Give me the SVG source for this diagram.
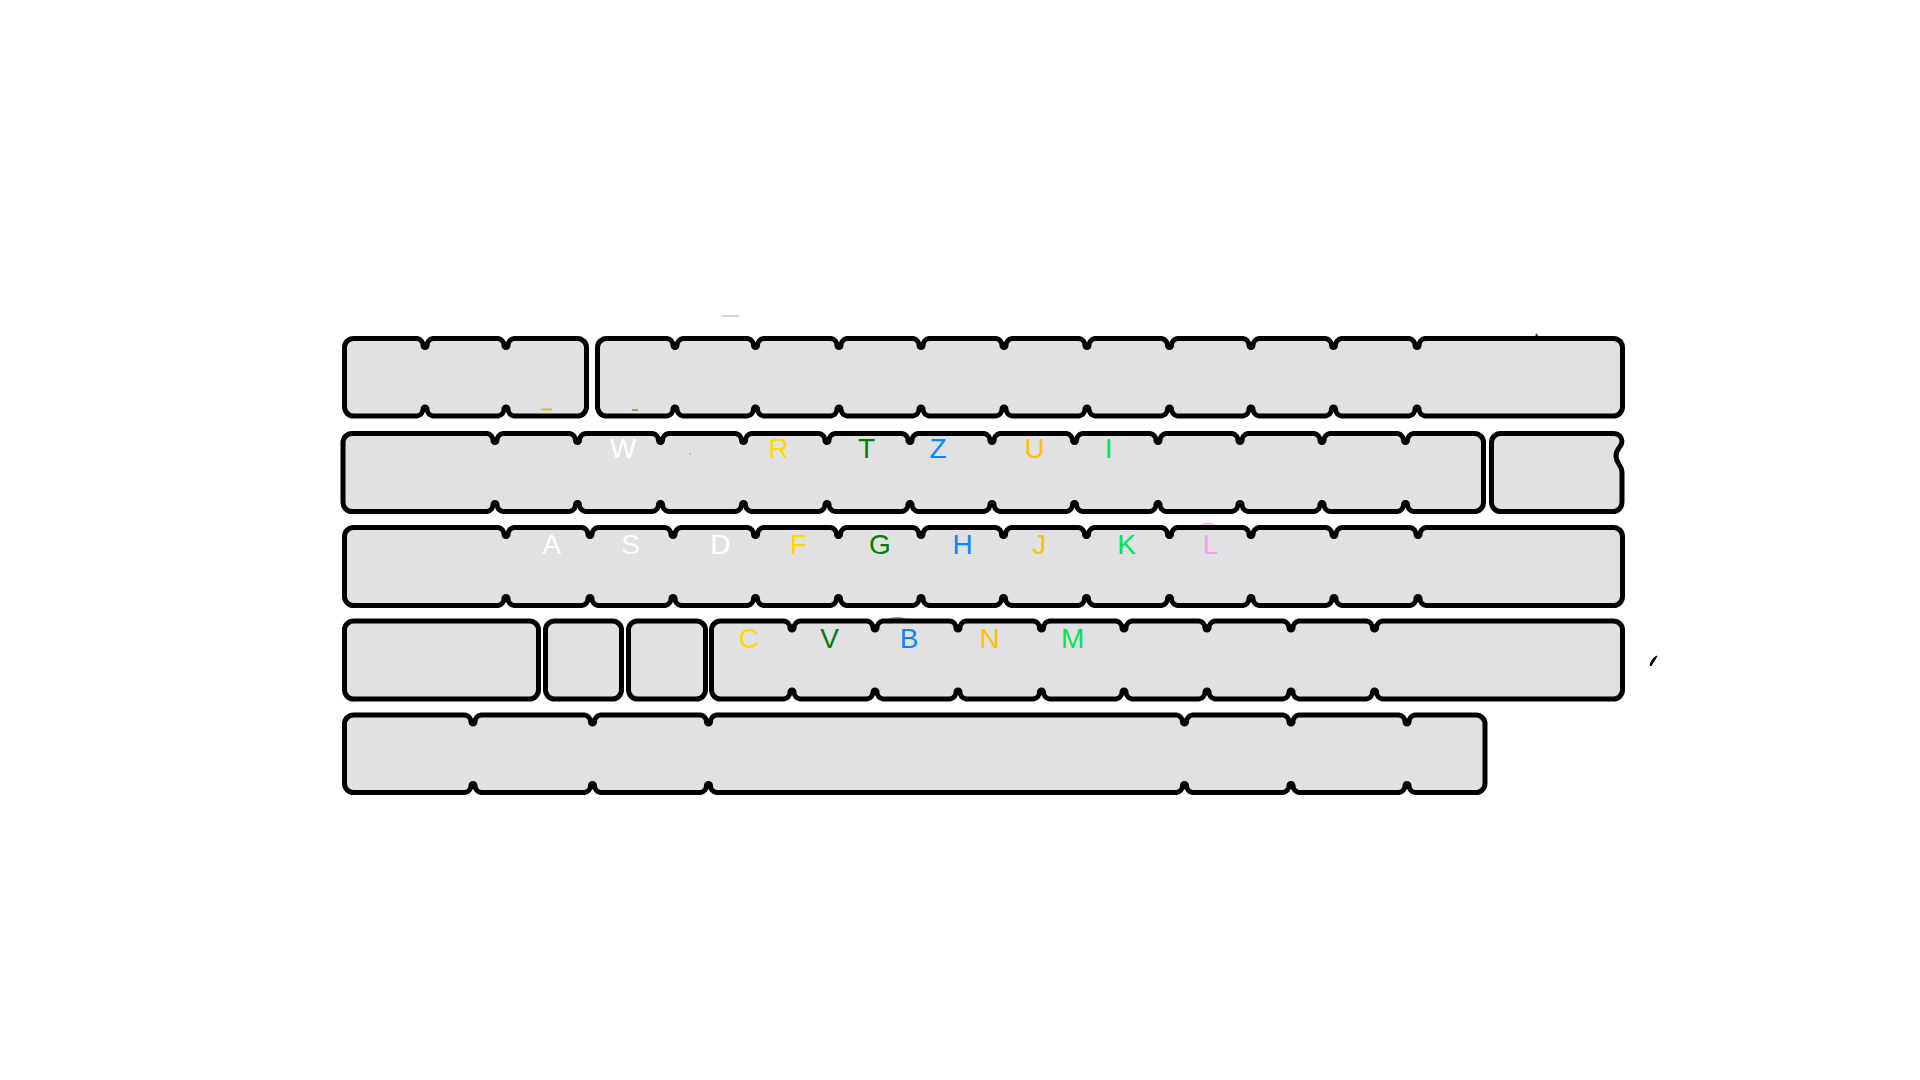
<svg xmlns="http://www.w3.org/2000/svg" width="1920" height="1080" viewBox="0 0 1920 1080">
<style>
.k{fill:#e1e1e3;stroke:#000;stroke-width:5;stroke-linejoin:round}
.t{font-family:"Liberation Sans",Arial,sans-serif;font-size:28px;text-anchor:middle}
.wh{fill:#ffffff}.ye{fill:#ffd800}.gr{fill:#008000}.bl{fill:#0a84ff}.or{fill:#ffc000}.li{fill:#00e64d}.pk{fill:#ff99f0}
</style>

<g id="marks">
<path d="M888,620 Q897,615.5 907,620" fill="none" stroke="#4caf50" stroke-width="1.5"/>
<path d="M1201,525.5 Q1208,521.5 1215,525.5" fill="none" stroke="#ffa0f0" stroke-width="1.5"/>
<line x1="722" y1="316" x2="739" y2="316" stroke="#c8c8c8" stroke-width="1.5"/>
<line x1="1536" y1="334" x2="1538" y2="338" stroke="#333" stroke-width="2"/>
<path d="M1650,665 Q1652,658 1657,656 Q1654,661 1651,666 Z" fill="#000" stroke="#000" stroke-width="1"/>
</g>

<g id="row1-left">
<path class="k" d="M344.5,347.5A9,9 0 0 1 353.5,338.5H417a7,7 0 0 1 6,7a2,2 0 0 0 4,0a7,7 0 0 1 6,-7H498a7,7 0 0 1 6,7a2,2 0 0 0 4,0a7,7 0 0 1 6,-7H577.5A9,9 0 0 1 586.5,347.5V407A9,9 0 0 1 577.5,416H514a7,7 0 0 1 -6,-7a2,2 0 0 0 -4,0a7,7 0 0 1 -6,7H433a7,7 0 0 1 -6,-7a2,2 0 0 0 -4,0a7,7 0 0 1 -6,7H353.5A9,9 0 0 1 344.5,407Z"/>
</g>
<g id="row1-right">
<path class="k" d="M597.5,347.5A9,9 0 0 1 606.5,338.5H667a7,7 0 0 1 6,7a2,2 0 0 0 4,0a7,7 0 0 1 6,-7H747.5a7,7 0 0 1 6,7a2,2 0 0 0 4,0a7,7 0 0 1 6,-7H831a7,7 0 0 1 6,7a2,2 0 0 0 4,0a7,7 0 0 1 6,-7H913a7,7 0 0 1 6,7a2,2 0 0 0 4,0a7,7 0 0 1 6,-7H996a7,7 0 0 1 6,7a2,2 0 0 0 4,0a7,7 0 0 1 6,-7H1079a7,7 0 0 1 6,7a2,2 0 0 0 4,0a7,7 0 0 1 6,-7H1161.5a7,7 0 0 1 6,7a2,2 0 0 0 4,0a7,7 0 0 1 6,-7H1243a7,7 0 0 1 6,7a2,2 0 0 0 4,0a7,7 0 0 1 6,-7H1325.5a7,7 0 0 1 6,7a2,2 0 0 0 4,0a7,7 0 0 1 6,-7H1409a7,7 0 0 1 6,7a2,2 0 0 0 4,0a7,7 0 0 1 6,-7H1613.5A9,9 0 0 1 1622.5,347.5V407A9,9 0 0 1 1613.5,416H1425a7,7 0 0 1 -6,-7a2,2 0 0 0 -4,0a7,7 0 0 1 -6,7H1341.5a7,7 0 0 1 -6,-7a2,2 0 0 0 -4,0a7,7 0 0 1 -6,7H1259a7,7 0 0 1 -6,-7a2,2 0 0 0 -4,0a7,7 0 0 1 -6,7H1177.5a7,7 0 0 1 -6,-7a2,2 0 0 0 -4,0a7,7 0 0 1 -6,7H1095a7,7 0 0 1 -6,-7a2,2 0 0 0 -4,0a7,7 0 0 1 -6,7H1012a7,7 0 0 1 -6,-7a2,2 0 0 0 -4,0a7,7 0 0 1 -6,7H929a7,7 0 0 1 -6,-7a2,2 0 0 0 -4,0a7,7 0 0 1 -6,7H847a7,7 0 0 1 -6,-7a2,2 0 0 0 -4,0a7,7 0 0 1 -6,7H763.5a7,7 0 0 1 -6,-7a2,2 0 0 0 -4,0a7,7 0 0 1 -6,7H683a7,7 0 0 1 -6,-7a2,2 0 0 0 -4,0a7,7 0 0 1 -6,7H606.5A9,9 0 0 1 597.5,407Z"/>
</g>

<g id="row2-main">
<path class="k" d="M343,442.5A9,9 0 0 1 352,433.5H487a7,7 0 0 1 6,7a2,2 0 0 0 4,0a7,7 0 0 1 6,-7H569.5a7,7 0 0 1 6,7a2,2 0 0 0 4,0a7,7 0 0 1 6,-7H652.5a7,7 0 0 1 6,7a2,2 0 0 0 4,0a7,7 0 0 1 6,-7H735.5a7,7 0 0 1 6,7a2,2 0 0 0 4,0a7,7 0 0 1 6,-7H819a7,7 0 0 1 6,7a2,2 0 0 0 4,0a7,7 0 0 1 6,-7H902a7,7 0 0 1 6,7a2,2 0 0 0 4,0a7,7 0 0 1 6,-7H984a7,7 0 0 1 6,7a2,2 0 0 0 4,0a7,7 0 0 1 6,-7H1066.5a7,7 0 0 1 6,7a2,2 0 0 0 4,0a7,7 0 0 1 6,-7H1150a7,7 0 0 1 6,7a2,2 0 0 0 4,0a7,7 0 0 1 6,-7H1232a7,7 0 0 1 6,7a2,2 0 0 0 4,0a7,7 0 0 1 6,-7H1314a7,7 0 0 1 6,7a2,2 0 0 0 4,0a7,7 0 0 1 6,-7H1397.5a7,7 0 0 1 6,7a2,2 0 0 0 4,0a7,7 0 0 1 6,-7H1474.5A9,9 0 0 1 1483.5,442.5V502.5A9,9 0 0 1 1474.5,511.5H1413.5a7,7 0 0 1 -6,-7a2,2 0 0 0 -4,0a7,7 0 0 1 -6,7H1330a7,7 0 0 1 -6,-7a2,2 0 0 0 -4,0a7,7 0 0 1 -6,7H1248a7,7 0 0 1 -6,-7a2,2 0 0 0 -4,0a7,7 0 0 1 -6,7H1166a7,7 0 0 1 -6,-7a2,2 0 0 0 -4,0a7,7 0 0 1 -6,7H1082.5a7,7 0 0 1 -6,-7a2,2 0 0 0 -4,0a7,7 0 0 1 -6,7H1000a7,7 0 0 1 -6,-7a2,2 0 0 0 -4,0a7,7 0 0 1 -6,7H918a7,7 0 0 1 -6,-7a2,2 0 0 0 -4,0a7,7 0 0 1 -6,7H835a7,7 0 0 1 -6,-7a2,2 0 0 0 -4,0a7,7 0 0 1 -6,7H751.5a7,7 0 0 1 -6,-7a2,2 0 0 0 -4,0a7,7 0 0 1 -6,7H668.5a7,7 0 0 1 -6,-7a2,2 0 0 0 -4,0a7,7 0 0 1 -6,7H585.5a7,7 0 0 1 -6,-7a2,2 0 0 0 -4,0a7,7 0 0 1 -6,7H503a7,7 0 0 1 -6,-7a2,2 0 0 0 -4,0a7,7 0 0 1 -6,7H352A9,9 0 0 1 343,502.5Z"/>
</g>
<g id="row2-end">
<path class="k" d="M1491.5,442.5A9,9 0 0 1 1500.5,433.5H1614A8,8 0 0 1 1622,441.5C1622,447 1616,448 1616,456C1616,464 1622,465 1622,472V502.5A9,9 0 0 1 1613,511.5H1500.5A9,9 0 0 1 1491.5,502.5Z"/>
</g>

<g id="row3">
<path class="k" d="M344.5,536.5A9,9 0 0 1 353.5,527.5H498a7,7 0 0 1 6,7a2,2 0 0 0 4,0a7,7 0 0 1 6,-7H582a7,7 0 0 1 6,7a2,2 0 0 0 4,0a7,7 0 0 1 6,-7H665a7,7 0 0 1 6,7a2,2 0 0 0 4,0a7,7 0 0 1 6,-7H747.5a7,7 0 0 1 6,7a2,2 0 0 0 4,0a7,7 0 0 1 6,-7H830.5a7,7 0 0 1 6,7a2,2 0 0 0 4,0a7,7 0 0 1 6,-7H913a7,7 0 0 1 6,7a2,2 0 0 0 4,0a7,7 0 0 1 6,-7H995.5a7,7 0 0 1 6,7a2,2 0 0 0 4,0a7,7 0 0 1 6,-7H1078.5a7,7 0 0 1 6,7a2,2 0 0 0 4,0a7,7 0 0 1 6,-7H1161.5a7,7 0 0 1 6,7a2,2 0 0 0 4,0a7,7 0 0 1 6,-7H1243a7,7 0 0 1 6,7a2,2 0 0 0 4,0a7,7 0 0 1 6,-7H1326a7,7 0 0 1 6,7a2,2 0 0 0 4,0a7,7 0 0 1 6,-7H1410a7,7 0 0 1 6,7a2,2 0 0 0 4,0a7,7 0 0 1 6,-7H1613.5A9,9 0 0 1 1622.5,536.5V596.5A9,9 0 0 1 1613.5,605.5H1426a7,7 0 0 1 -6,-7a2,2 0 0 0 -4,0a7,7 0 0 1 -6,7H1342a7,7 0 0 1 -6,-7a2,2 0 0 0 -4,0a7,7 0 0 1 -6,7H1259a7,7 0 0 1 -6,-7a2,2 0 0 0 -4,0a7,7 0 0 1 -6,7H1177.5a7,7 0 0 1 -6,-7a2,2 0 0 0 -4,0a7,7 0 0 1 -6,7H1094.5a7,7 0 0 1 -6,-7a2,2 0 0 0 -4,0a7,7 0 0 1 -6,7H1011.5a7,7 0 0 1 -6,-7a2,2 0 0 0 -4,0a7,7 0 0 1 -6,7H929a7,7 0 0 1 -6,-7a2,2 0 0 0 -4,0a7,7 0 0 1 -6,7H846.5a7,7 0 0 1 -6,-7a2,2 0 0 0 -4,0a7,7 0 0 1 -6,7H763.5a7,7 0 0 1 -6,-7a2,2 0 0 0 -4,0a7,7 0 0 1 -6,7H681a7,7 0 0 1 -6,-7a2,2 0 0 0 -4,0a7,7 0 0 1 -6,7H598a7,7 0 0 1 -6,-7a2,2 0 0 0 -4,0a7,7 0 0 1 -6,7H514a7,7 0 0 1 -6,-7a2,2 0 0 0 -4,0a7,7 0 0 1 -6,7H353.5A9,9 0 0 1 344.5,596.5Z"/>
</g>

<g id="row4-a"><rect class="k" x="344.5" y="621" width="194" height="78" rx="9"/></g>
<g id="row4-b"><rect class="k" x="545.5" y="621" width="76" height="78" rx="9"/></g>
<g id="row4-c"><rect class="k" x="628.5" y="621" width="77" height="78" rx="9"/></g>
<g id="row4-d">
<path class="k" d="M711.5,630A9,9 0 0 1 720.5,621H784a7,7 0 0 1 6,7a2,2 0 0 0 4,0a7,7 0 0 1 6,-7H867a7,7 0 0 1 6,7a2,2 0 0 0 4,0a7,7 0 0 1 6,-7H950a7,7 0 0 1 6,7a2,2 0 0 0 4,0a7,7 0 0 1 6,-7H1033.5a7,7 0 0 1 6,7a2,2 0 0 0 4,0a7,7 0 0 1 6,-7H1116a7,7 0 0 1 6,7a2,2 0 0 0 4,0a7,7 0 0 1 6,-7H1199a7,7 0 0 1 6,7a2,2 0 0 0 4,0a7,7 0 0 1 6,-7H1283a7,7 0 0 1 6,7a2,2 0 0 0 4,0a7,7 0 0 1 6,-7H1366.5a7,7 0 0 1 6,7a2,2 0 0 0 4,0a7,7 0 0 1 6,-7H1613.5A9,9 0 0 1 1622.5,630V690A9,9 0 0 1 1613.5,699H1382.5a7,7 0 0 1 -6,-7a2,2 0 0 0 -4,0a7,7 0 0 1 -6,7H1299a7,7 0 0 1 -6,-7a2,2 0 0 0 -4,0a7,7 0 0 1 -6,7H1215a7,7 0 0 1 -6,-7a2,2 0 0 0 -4,0a7,7 0 0 1 -6,7H1132a7,7 0 0 1 -6,-7a2,2 0 0 0 -4,0a7,7 0 0 1 -6,7H1049.5a7,7 0 0 1 -6,-7a2,2 0 0 0 -4,0a7,7 0 0 1 -6,7H966a7,7 0 0 1 -6,-7a2,2 0 0 0 -4,0a7,7 0 0 1 -6,7H883a7,7 0 0 1 -6,-7a2,2 0 0 0 -4,0a7,7 0 0 1 -6,7H800a7,7 0 0 1 -6,-7a2,2 0 0 0 -4,0a7,7 0 0 1 -6,7H720.5A9,9 0 0 1 711.5,690Z"/>
</g>

<g id="row5">
<path class="k" d="M344.5,724A9,9 0 0 1 353.5,715H465a7,7 0 0 1 6,7a2,2 0 0 0 4,0a7,7 0 0 1 6,-7H584.5a7,7 0 0 1 6,7a2,2 0 0 0 4,0a7,7 0 0 1 6,-7H700.5a7,7 0 0 1 6,7a2,2 0 0 0 4,0a7,7 0 0 1 6,-7H1176.5a7,7 0 0 1 6,7a2,2 0 0 0 4,0a7,7 0 0 1 6,-7H1283a7,7 0 0 1 6,7a2,2 0 0 0 4,0a7,7 0 0 1 6,-7H1399a7,7 0 0 1 6,7a2,2 0 0 0 4,0a7,7 0 0 1 6,-7H1476A9,9 0 0 1 1485,724V783.5A9,9 0 0 1 1476,792.5H1415a7,7 0 0 1 -6,-7a2,2 0 0 0 -4,0a7,7 0 0 1 -6,7H1299a7,7 0 0 1 -6,-7a2,2 0 0 0 -4,0a7,7 0 0 1 -6,7H1192.5a7,7 0 0 1 -6,-7a2,2 0 0 0 -4,0a7,7 0 0 1 -6,7H716.5a7,7 0 0 1 -6,-7a2,2 0 0 0 -4,0a7,7 0 0 1 -6,7H600.5a7,7 0 0 1 -6,-7a2,2 0 0 0 -4,0a7,7 0 0 1 -6,7H481a7,7 0 0 1 -6,-7a2,2 0 0 0 -4,0a7,7 0 0 1 -6,7H353.5A9,9 0 0 1 344.5,783.5Z"/>
</g>

<g id="specks">
<line x1="541" y1="409.5" x2="552" y2="409.5" stroke="#d2bc20" stroke-width="2"/>
<line x1="632" y1="410" x2="638" y2="410" stroke="#a0a040" stroke-width="2"/>
<rect x="689" y="453.5" width="2" height="1" fill="#90c090"/>
</g>

<g id="labels" class="t">
<text x="623" y="458" class="wh">W</text>
<text x="778.5" y="458" class="ye">R</text>
<text x="866.5" y="458" class="gr">T</text>
<text x="938" y="458" class="bl">Z</text>
<text x="1034.5" y="458" class="or">U</text>
<text x="1108.6" y="458" class="li">I</text>
<text x="551.7" y="554.3" class="wh">A</text>
<text x="630.7" y="554.3" class="wh">S</text>
<text x="720.4" y="554.3" class="wh">D</text>
<text x="798.6" y="554.3" class="ye">F</text>
<text x="880" y="554.3" class="gr">G</text>
<text x="962.5" y="554.3" class="bl">H</text>
<text x="1039.3" y="554.3" class="or">J</text>
<text x="1126.5" y="554.3" class="li">K</text>
<text x="1210.5" y="554.3" class="pk">L</text>
<text x="749" y="648" class="ye">C</text>
<text x="829.5" y="648" class="gr">V</text>
<text x="909" y="648" class="bl">B</text>
<text x="989.5" y="648" class="or">N</text>
<text x="1072.6" y="648" class="li">M</text>
</g>
</svg>
